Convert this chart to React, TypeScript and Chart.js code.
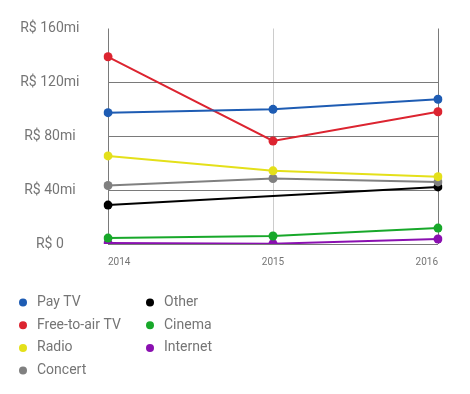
import React, { useEffect, useRef } from "react";
import { Chart, registerables } from "chart.js";

Chart.register(...registerables);

const years = ["2014", "2015", "2016"];
const seriesNames = ["Pay TV", "Free-to-air TV", "Radio", "Concert", "Other", "Cinema", "Internet"];
const seriesColors = ["#1e5cb3", "#dc2430", "#e4e01a", "#808080", "#000000", "#18a82a", "#8a10b0"];
const payTV = [97.5, 100, 107.5];
const freeToAir = [139, 76.5, 98.2];
const radio = [65.4, 54.3, 50];
const concert = [43.4, 48.6, 46.1];
const other = [28.9, null, 42.4];
const cinema = [4.4, 5.9, 11.8];
const internet = [0.7, 0.2, 3.7];
const seriesValues = [payTV, freeToAir, radio, concert, other, cinema, internet];
const yTicks = [0, 40, 80, 120, 160];
const yTickLabels = ["R$ 0", "R$ 40mi", "R$ 80mi", "R$ 120mi", "R$ 160mi"];

const FONT = "Roboto";
const TEXT = "#757575";
const GRID_DARK = "#7a7a7a";
const GRID_LIGHT = "#cccccc";

const legendPlugin = {
  id: "columnLegend",
  afterDraw(chart: any) {
    const ctx = chart.ctx;
    const ds = chart.data.datasets;
    const rows = 4;
    const colX = [23, 150];
    const rowY0 = 302.5;
    const rowH = 22.7;
    ctx.save();
    ctx.font = `14px ${FONT}`;
    ctx.textBaseline = "middle";
    ctx.textAlign = "left";
    ds.forEach((d: any, i: number) => {
      const col = Math.floor(i / rows);
      const row = i % rows;
      const x = colX[col];
      const y = rowY0 + row * rowH;
      ctx.beginPath();
      ctx.fillStyle = d.borderColor;
      ctx.arc(x, y, 4, 0, Math.PI * 2);
      ctx.fill();
      ctx.fillStyle = TEXT;
      ctx.fillText(d.label, x + 14, y);
    });
    ctx.restore();
  },
};

export default function App() {
  const ref = useRef<HTMLCanvasElement | null>(null);
  useEffect(() => {
    if (!ref.current) return;
    const chart = new Chart(ref.current, {
      type: "line",
      data: {
        labels: years,
        datasets: seriesNames.map((name, i) => ({
          label: name,
          data: seriesValues[i],
          borderColor: seriesColors[i],
          backgroundColor: seriesColors[i],
          pointBackgroundColor: seriesColors[i],
          pointBorderWidth: 0,
          pointRadius: 4.5,
          borderWidth: 2,
          tension: 0,
          spanGaps: true,
          fill: false,
        })),
      },
      options: {
        responsive: false,
        animation: false,
        layout: { padding: { left: 0, right: 32, top: 28.5, bottom: 114 } },
        plugins: {
          legend: { display: false },
          tooltip: { enabled: false },
        },
        scales: {
          x: {
            offset: false,
            grid: {
              drawTicks: false,
              color: (c: any) => (c.index === 1 ? GRID_LIGHT : GRID_DARK),
              lineWidth: 1,
            },
            border: { display: false },
            ticks: {
              align: "inner",
              color: TEXT,
              font: { family: FONT, size: 10 },
              padding: 12,
              maxRotation: 0,
            },
          },
          y: {
            min: 0,
            max: 160,
            afterBuildTicks: (axis: any) => {
              axis.ticks = yTicks.map((v) => ({ value: v }));
            },
            afterFit: (axis: any) => {
              axis.width = 108;
              axis.paddingTop = 8;
              axis.paddingBottom = 8;
            },
            grid: {
              drawTicks: false,
              color: (c: any) => (c.tick && c.tick.value === 160 ? "rgba(0,0,0,0)" : GRID_DARK),
              lineWidth: 1,
            },
            border: { display: false },
            ticks: {
              crossAlign: "center",
              color: TEXT,
              font: { family: FONT, size: 14 },
              padding: 28.5,
              callback: (v: any) => {
                const idx = yTicks.indexOf(Number(v));
                return idx >= 0 ? yTickLabels[idx] : "";
              },
            },
          },
        },
      },
      plugins: [legendPlugin],
    });
    return () => chart.destroy();
  }, []);
  return (
    <div style={{ position: "fixed", left: 0, top: 0, width: 470, height: 394, background: "#fff" }}>
      <canvas ref={ref} width={470} height={394} style={{ width: 470, height: 394, display: "block" }} />
    </div>
  );
}
